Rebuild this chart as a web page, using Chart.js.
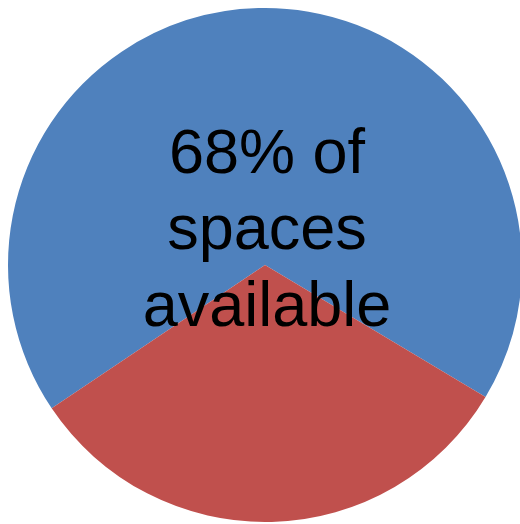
<!DOCTYPE html>
<html>
<head>
<meta charset="utf-8">
<script src="https://cdn.jsdelivr.net/npm/chart.js@4"></script>
<style>
  html, body { margin: 0; padding: 0; overflow: hidden; background: #fff; }
  #wrap { position: absolute; left: 0; top: 0; width: 531px; height: 524px; }
</style>
</head>
<body>
<div id="wrap"><canvas id="myChart" width="531" height="524"></canvas></div>
<script>
const labels = ["Available", "Occupied"];
const values = [68, 32];
const colors = ["#4F81BD", "#C0504D"];
const centerLines = ["68% of", "spaces", "available"];

// text drawn on top of the pie
const centerText = {
  id: "centerText",
  afterDraw(chart) {
    const c = chart.ctx;
    c.save();
    c.font = "63px 'Liberation Sans', Arial, sans-serif";
    c.fillStyle = "#000";
    c.textAlign = "center";
    c.textBaseline = "alphabetic";
    const baselines = [173, 249, 326];
    centerLines.forEach((line, i) => c.fillText(line, 267, baselines[i]));
    c.restore();
  },
};

let ctx = document.querySelector("#myChart").getContext("2d");

const data = {
  labels,
  datasets: [
    {
      data: values,
      backgroundColor: colors,
      borderWidth: 0,
    },
  ],
};

const config = {
  type: "pie",
  data: data,
  options: {
    responsive: false,
    animation: false,
    rotation: 236.1,
    layout: { padding: { top: 8, bottom: 2, left: 8, right: 9 } },
    plugins: {
      legend: { display: false },
      tooltip: { enabled: false },
    },
  },
  plugins: [centerText],
};

const myChart = new Chart(ctx, config);
</script>
</body>
</html>
